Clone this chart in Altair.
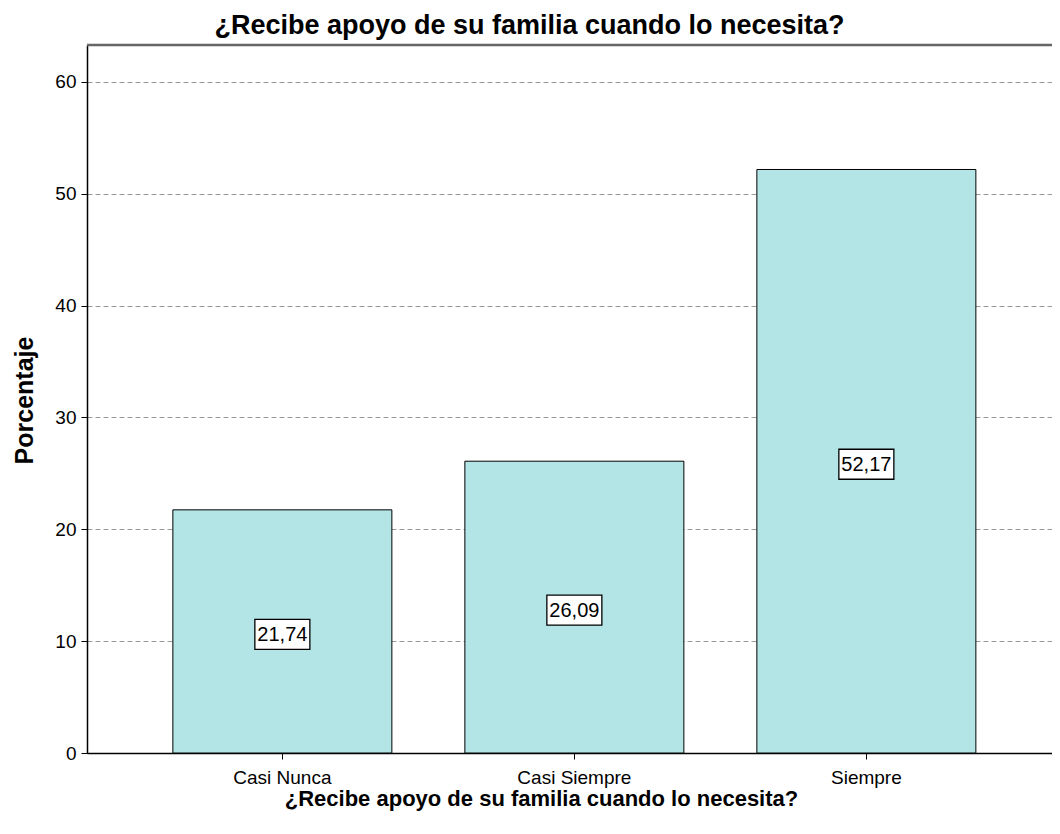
import altair as alt
import pandas as pd

categories = ["Casi Nunca", "Casi Siempre", "Siempre"]
percentages = [21.74, 26.09, 52.17]
y_ticks = [0, 10, 20, 30, 40, 50, 60]

df = pd.DataFrame({"cat": categories, "pct": percentages})

FONT = "Liberation Sans"
TITLE = "¿Recibe apoyo de su familia cuando lo necesita?"
W, H = 965, 708

x_scale = alt.Scale(paddingInner=0.25, paddingOuter=0.2774, align=0.53)
y_scale = alt.Scale(domain=[0, 63.3], nice=False, zero=True)

x_enc = alt.X(
    "cat:N",
    sort=categories,
    scale=x_scale,
    axis=alt.Axis(
        title=TITLE,
        titleFont=FONT,
        titleFontSize=22,
        titleFontWeight="bold",
        titleColor="black",
        titleX=454,
        titleY=52,
        titleBaseline="alphabetic",
        labelAngle=0,
        labelFont=FONT,
        labelFontSize=19,
        labelColor="black",
        labelPadding=9,
        tickSize=6,
        tickColor="black",
        domainColor="black",
        domainWidth=1.5,
        grid=False,
    ),
)

bars = alt.Chart(df).mark_bar(
    color="#b4e5e6", stroke="black", strokeWidth=1
).encode(
    x=x_enc,
    y=alt.Y(
        "pct:Q",
        scale=y_scale,
        axis=alt.Axis(
            title="Porcentaje",
            titleFont=FONT,
            titleFontSize=25,
            titleFontWeight="bold",
            titleColor="black",
            titleX=-55,
            titleY=355,
            titleBaseline="alphabetic",
            titleAngle=-90,
            values=y_ticks,
            labelFont=FONT,
            labelFontSize=19,
            labelColor="black",
            labelPadding=5,
            tickSize=6,
            tickColor="black",
            domainColor="black",
            domainWidth=1.5,
            grid=True,
            gridColor="#9a9a9a",
            gridDash=[5, 3],
            gridWidth=1,
        ),
    ),
)

base = alt.Chart(df).transform_calculate(
    half="datum.pct / 2",
    label="replace(format(datum.pct, '.2f'), '.', ',')",
)

boxes = base.mark_point(
    shape="M-1,-0.436L1,-0.436L1,0.655L-1,0.655Z",
    size=3025,
    filled=True,
    fill="white",
    stroke="black",
    strokeWidth=1.3,
    opacity=1,
).encode(
    x=alt.X("cat:N", sort=categories, scale=x_scale),
    y=alt.Y("half:Q", scale=y_scale),
)

labels = base.mark_text(
    font=FONT, fontSize=20, color="black", baseline="middle", align="center", dy=4
).encode(
    x=alt.X("cat:N", sort=categories, scale=x_scale),
    y=alt.Y("half:Q", scale=y_scale),
    text="label:N",
)

frame_top = alt.Chart(pd.DataFrame({"k": [0]})).mark_rule(
    color="#666666", strokeWidth=2.5
).encode(x=alt.value(0), x2=alt.value(W), y=alt.value(0))

chart = (
    alt.layer(bars, boxes, labels, frame_top)
    .properties(
        width=W,
        height=H,
        autosize=alt.AutoSizeParams(type="none"),
        padding={"left": 79, "top": 37, "right": 0, "bottom": 64},
        title=alt.TitleParams(
            TITLE,
            font=FONT,
            fontSize=27,
            fontWeight="bold",
            color="black",
            anchor="middle",
            dx=-40,
            dy=30,
            offset=13,
            baseline="alphabetic",
        ),
    )
    .configure_view(stroke=None)
    .configure(background="white")
)

chart.save("out.html", embed_options={"renderer": "svg", "actions": False})
